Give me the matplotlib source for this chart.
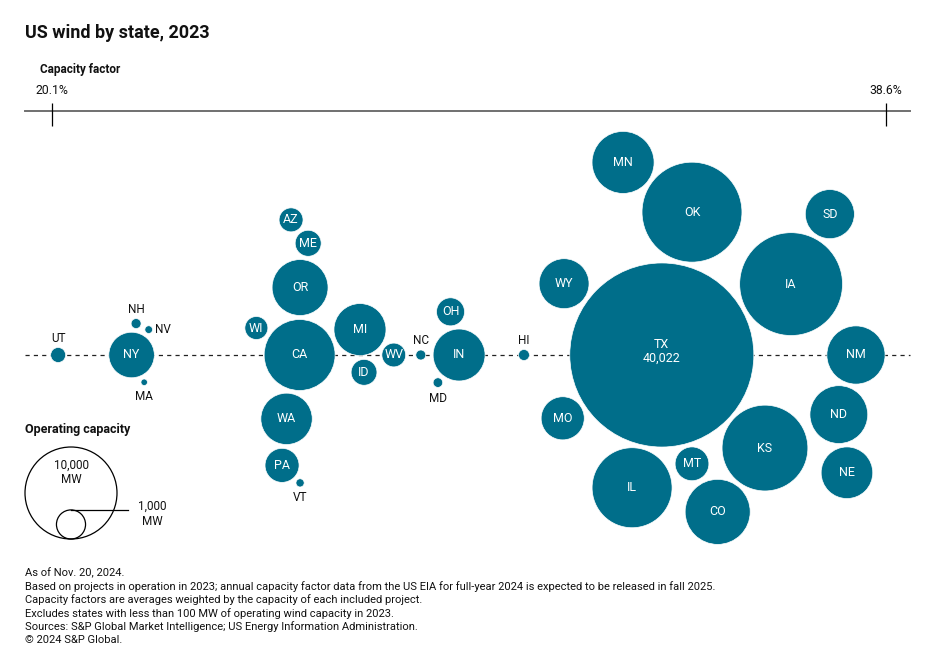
import numpy as np
import matplotlib
matplotlib.use('Agg')
import matplotlib.pyplot as plt
from matplotlib.patches import Circle

plt.rcParams['font.family'] = ['Roboto', 'DejaVu Sans']
plt.rcParams['lines.scale_dashes'] = False

# ── Data ──────────────────────────────────────────────────────────────────
states = ['TX', 'IA', 'OK', 'KS', 'IL', 'CA', 'CO', 'MN', 'NM', 'ND',
          'OR', 'MI', 'IN', 'NE', 'WA', 'WY', 'SD', 'NY', 'MO', 'PA',
          'MT', 'OH', 'ME', 'ID', 'AZ', 'WV', 'WI', 'UT', 'HI', 'NC',
          'NH', 'MD', 'VT', 'NV', 'MA']
cap_factor = [33.63, 36.50, 34.30, 35.92, 32.97, 25.59, 34.87, 32.77, 37.94, 37.56,
              25.60, 26.93, 29.13, 37.74, 25.30, 31.46, 37.36, 21.86, 31.43, 25.20,
              34.30, 28.94, 25.78, 27.02, 25.40, 27.68, 24.63, 20.23, 30.57, 28.28,
              21.96, 28.66, 25.60, 22.24, 22.14]
capacity_mw = [40022, 12500, 11800, 8700, 7560, 5950, 5000, 4550, 4000, 3950,
               3700, 3200, 3190, 3150, 3120, 2950, 2850, 2450, 2200, 1370,
               1350, 930, 800, 790, 680, 670, 625, 266, 143, 118,
               118, 109, 80, 70, 50]

CF_MIN, CF_MAX = 20.1, 38.6
LEGEND_MW = [10000, 1000]

footnotes = [
    'As of Nov. 20, 2024.',
    'Based on projects in operation in 2023; annual capacity factor data from the US EIA for '
    'full-year 2024 is expected to be released in fall 2025.',
    'Capacity factors are averages weighted by the capacity of each included project.',
    'Excludes states with less than 100 MW of operating wind capacity in 2023.',
    'Sources: S&P Global Market Intelligence; US Energy Information Administration.',
    '\u00a9 2024 S&P Global.',
]

# small bubbles get their label outside
LABEL_SIDE = {'UT': 'above', 'NH': 'above', 'NC': 'above', 'HI': 'above',
              'NV': 'right', 'MA': 'below', 'MD': 'below', 'VT': 'below'}

# ── Layout (pixel canvas 952 x 659) ───────────────────────────────────────
W, H = 952, 659
TICK_L, TICK_R = 52.3, 885.7     # px of the two scale ends
BASE_Y = 355                     # px row of the dashed baseline
R10K = 46                        # px radius of a 10,000 MW bubble
PAD = 4                          # px gap between bubbles
PPP = (TICK_R - TICK_L) / (CF_MAX - CF_MIN)
TEAL = '#006E8A'
INK = '#111111'


def px_x(px):
    return CF_MIN + (px - TICK_L) / PPP


def px_y(py):
    return (BASE_Y - py) / PPP


def fx(px):
    return px / W


def fy(py):
    return 1 - py / H


cf = np.array(cap_factor)
mw = np.array(capacity_mw, dtype=float)
radii = R10K / PPP * np.sqrt(mw / 10000)
pad = PAD / PPP

# ── Beeswarm packing: biggest first, nearest free row to the baseline ────
ys = np.zeros(len(states))
placed = []
for i in np.argsort(-mw, kind='stable'):
    cands = [0.0]
    for j in placed:
        dx = cf[i] - cf[j]
        s = radii[i] + radii[j] + pad
        if abs(dx) < s:
            dy = np.sqrt(s * s - dx * dx)
            cands += [ys[j] + dy, ys[j] - dy]

    def free(y):
        for j in placed:
            s = radii[i] + radii[j] + pad
            if (cf[i] - cf[j]) ** 2 + (y - ys[j]) ** 2 < s * s * (1 - 1e-7):
                return False
        return True

    ys[i] = min((c for c in cands if free(c)), key=lambda c: (round(abs(c), 9), -c))
    placed.append(i)

# ── Plot ──────────────────────────────────────────────────────────────────
fig = plt.figure(figsize=(W / 100, H / 100), dpi=100)
ax = fig.add_axes([0, 0, 1, 1])
ax.set_xlim(px_x(0), px_x(W))
ax.set_ylim(px_y(H), px_y(0))
ax.axis('off')

# top scale
ys_top = px_y(111)
ax.plot([px_x(25), px_x(910)], [ys_top, ys_top], color='#707070', lw=1.4, zorder=1)
ax.vlines([CF_MIN, CF_MAX], px_y(126), px_y(103), color='black', lw=0.9, zorder=2)
for v in (CF_MIN, CF_MAX):
    ax.text(v, px_y(90), f'{v:.1f}%', ha='center', va='center', fontsize=8.8, color=INK)

# dashed baseline
ax.plot([px_x(25), px_x(910)], [0, 0], color='#222', lw=0.9, dashes=(3, 3), zorder=1)

# bubbles
big = int(np.argmax(mw))
for i, st in enumerate(states):
    ax.add_patch(Circle((cf[i], ys[i]), radii[i], facecolor=TEAL,
                        edgecolor='white', lw=0.5, zorder=3))
    r_pt = radii[i] * PPP * 0.72
    side = LABEL_SIDE.get(st)
    if side is None:
        if i == big:
            ax.text(cf[i], ys[i] + 4 / PPP, f'{st}\n{capacity_mw[i]:,}', ha='center',
                    va='center', color='white', fontsize=9, linespacing=1.1, zorder=4)
        else:
            ax.text(cf[i], ys[i], st, ha='center', va='center', color='white',
                    fontsize=9, zorder=4)
    elif side == 'above':
        ax.annotate(st, (cf[i], ys[i]), xytext=(0, r_pt + 2), textcoords='offset points',
                    ha='center', va='bottom', fontsize=8.5, color=INK, zorder=4)
    elif side == 'below':
        ax.annotate(st, (cf[i], ys[i]), xytext=(0, -r_pt - 3), textcoords='offset points',
                    ha='center', va='top', fontsize=8.5, color=INK, zorder=4)
    else:
        ax.annotate(st, (cf[i], ys[i]), xytext=(r_pt + 1.5, 0), textcoords='offset points',
                    ha='left', va='center', fontsize=8.5, color=INK, zorder=4)

# size legend
leg_x = px_x(71)
leg_bottom = px_y(539)
for k, m in enumerate(LEGEND_MW):
    r = R10K / PPP * np.sqrt(m / 10000)
    ax.add_patch(Circle((leg_x, leg_bottom + r), r, facecolor='none',
                        edgecolor='black', lw=0.9, zorder=3))
    if k == 0:
        ax.text(leg_x, leg_bottom + 1.45 * r, f'{m:,}\nMW', ha='center', va='center',
                fontsize=8.5, linespacing=1.2, color=INK)
    else:
        top = leg_bottom + 2 * r
        ax.plot([leg_x, px_x(128)], [top, top], color='black', lw=0.9)
        ax.text(px_x(152), top - 4 / PPP, f'{m:,}\nMW', ha='center', va='center',
                fontsize=8.5, linespacing=1.2, color=INK)

# texts
fig.text(fx(25), fy(33), 'US wind by state, 2023', ha='left', va='center',
         fontsize=13, fontweight='semibold', color=INK)
fig.text(fx(40), fy(70), 'Capacity factor', ha='left', va='center',
         fontsize=8.5, fontweight='bold', color=INK)
fig.text(fx(25), fy(429), 'Operating capacity', ha='left', va='center',
         fontsize=9, fontweight='bold', color=INK)
for k, line in enumerate(footnotes):
    fig.text(fx(25), fy(573 + 13.4 * k), line, ha='left', va='center',
             fontsize=8, color=INK)

plt.savefig('out.png', dpi=100)
plt.close()
